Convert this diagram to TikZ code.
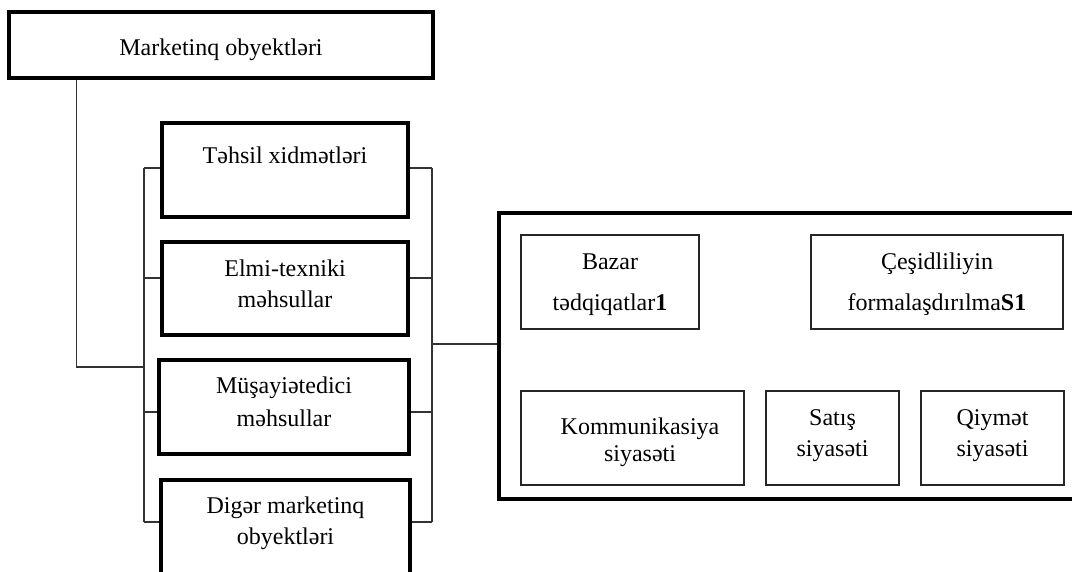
\documentclass[tikz,border=0pt]{standalone}
\usepackage{fontspec}
\setmainfont{Liberation Serif}
\begin{document}
\begin{tikzpicture}[x=1pt,y=-1pt,
  obox/.style={draw=black,line width=3.2pt,fill=white,inner sep=0pt},
  ibox/.style={draw=black!85,line width=2.2pt,fill=white,inner sep=0pt},
  lbl/.style={anchor=base,inner sep=0pt,font=\fontsize{24}{28}\selectfont},
  wire/.style={draw=black!80,line width=1.5pt}]
\clip (0,0) rectangle (1072,571);
\fill[white] (0,0) rectangle (1072,571);

% bracket points of the connectors
\coordinate (lt1) at (144,168);
\coordinate (lt2) at (144,278);
\coordinate (lt3) at (144,412);
\coordinate (lt4) at (144,522);
\coordinate (rt1) at (432,168);
\coordinate (rt2) at (432,278);
\coordinate (rt3) at (432,412);
\coordinate (rt4) at (432,522);
\coordinate (lmid) at (144,367);
\coordinate (rmid) at (432,344);

% main boxes
\node[obox,minimum width=424,minimum height=66] (top) at (221,45) {};
\node[obox,minimum width=246,minimum height=94] (b1) at (285,170) {};
\node[obox,minimum width=246,minimum height=93] (b2) at (285,288.5) {};
\node[obox,minimum width=250,minimum height=94] (b3) at (284,407) {};
\node[obox,minimum width=249,minimum height=100] (b4) at (285.5,530) {};
\node[obox,minimum width=586,minimum height=286] (big) at (792,356) {};

% connectors
\draw[wire] ([xshift=69pt]top.south west) |- (lmid);
\draw[wire] (lt1) -- (lt4);
\draw[wire] (rt1) -- (rt4);
\draw[wire] (lt1) -- (lt1 -| b1.west);
\draw[wire] (lt2) -- (lt2 -| b2.west);
\draw[wire] (lt3) -- (lt3 -| b3.west);
\draw[wire] (lt4) -- (lt4 -| b4.west);
\draw[wire] (rt1) -- (rt1 -| b1.east);
\draw[wire] (rt2) -- (rt2 -| b2.east);
\draw[wire] (rt3) -- (rt3 -| b3.east);
\draw[wire] (rt4) -- (rt4 -| b4.east);
\draw[wire] (rmid) -- (rmid -| big.west);

% inner boxes of the right panel
\node[ibox,minimum width=178,minimum height=94] (bazar) at (610,282) {};
\node[ibox,minimum width=252,minimum height=94] (cesid) at (937,282) {};
\node[ibox,minimum width=223,minimum height=94] (komm) at (632.5,438) {};
\node[ibox,minimum width=133,minimum height=94] (satis) at (832.5,438) {};
\node[ibox,minimum width=143,minimum height=94] (qiym) at (992.5,438) {};

% texts
\node[lbl] (ttop) at (221,55) {Marketinq obyektləri};
\node[lbl] (t1) at (285,163) {Təhsil xidmətləri};
\node[lbl] (t2a) at (285,276) {Elmi-texniki};
\node[lbl] (t2b) at (285,307) {məhsullar};
\node[lbl] (t3a) at (284,393) {Müşayiətedici};
\node[lbl] (t3b) at (284,426) {məhsullar};
\node[lbl] (t4a) at (285.5,513) {Digər marketinq};
\node[lbl] (t4b) at (285.5,544) {obyektləri};
\node[lbl] (tba) at (610,269) {Bazar};
\node[lbl] (tbb) at (610,310) {tədqiqatlar\textbf{1}};
\node[lbl] (tca) at (937,269) {Çeşidliliyin};
\node[lbl] (tcb) at (937,310) {formalaşdırılma\textbf{S1}};
\node[lbl] (tka) at (640,434) {Kommunikasiya};
\node[lbl] (tkb) at (640,461) {siyasəti};
\node[lbl] (tsa) at (832.5,425) {Satış};
\node[lbl] (tsb) at (832.5,456) {siyasəti};
\node[lbl] (tqa) at (992.5,425) {Qiymət};
\node[lbl] (tqb) at (992.5,456) {siyasəti};
\end{tikzpicture}
\end{document}
